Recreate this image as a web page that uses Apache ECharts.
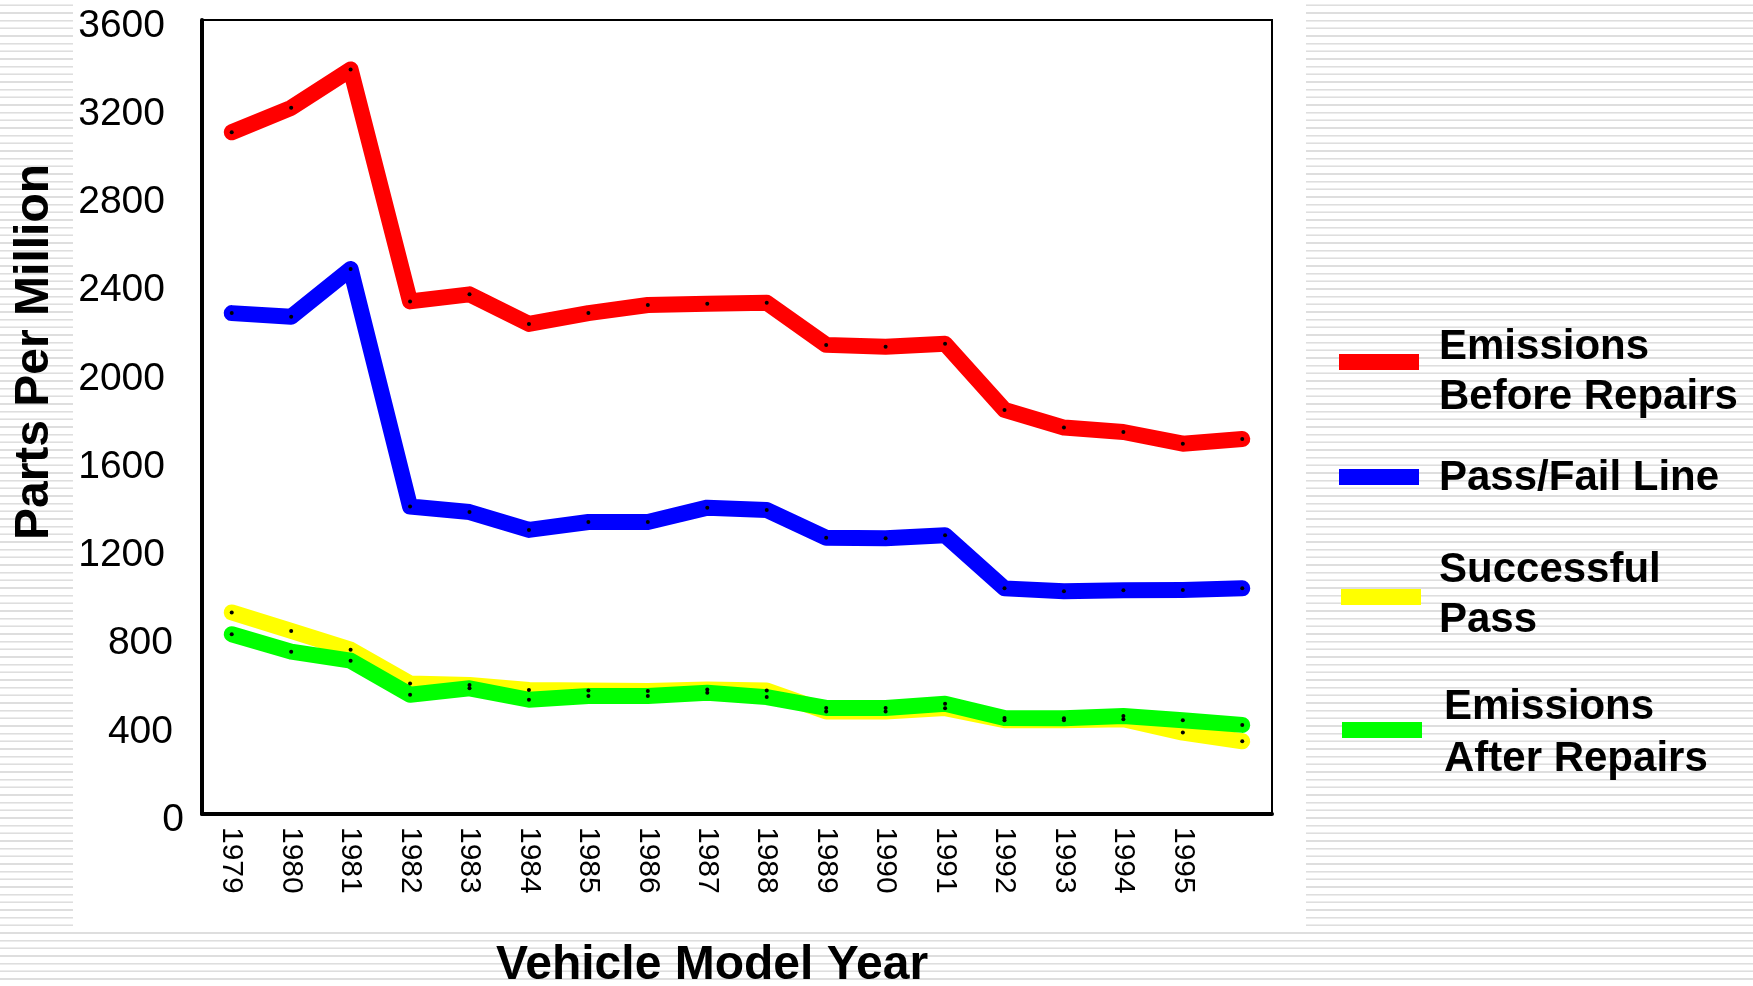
<!DOCTYPE html>
<html>
<head>
<meta charset="utf-8">
<script src="https://cdn.jsdelivr.net/npm/echarts@6/dist/echarts.min.js"></script>
<style>
html, body { margin: 0; padding: 0; }
body {
  width: 1753px; height: 986px; overflow: hidden; position: relative;
  background: repeating-linear-gradient(to bottom,
    #ffffff 0px, #ffffff 4.2px,
    #ececec 4.2px, #ececec 4.7px,
    #dedede 4.7px, #dedede 5.9px,
    #ececec 5.9px, #ececec 6.4px,
    #ffffff 6.4px, #ffffff 7.667px);
}
#panel { position: absolute; left: 73px; top: 0; width: 1233px; height: 928px; background: #ffffff; }
#chart { position: absolute; left: 0; top: 0; width: 1753px; height: 986px; }
</style>
</head>
<body>
<div id="panel"></div>
<div id="chart"></div>
<script>
// ---- data ----
const years = ['1979','1980','1981','1982','1983','1984','1985','1986','1987','1988','1989','1990','1991','1992','1993','1994','1995',''];
const beforeRepairs = [3091, 3202, 3376, 2324, 2356, 2222, 2271, 2308, 2314, 2318, 2127, 2118, 2132, 1832, 1752, 1732, 1679, 1700];
const passFailLine  = [2271, 2255, 2471, 1394, 1369, 1288, 1324, 1324, 1389, 1378, 1253, 1250, 1264, 1023, 1010, 1014, 1016, 1023];
const successfulPass = [914, 830, 745, 592, 585, 562, 560, 558, 565, 560, 465, 465, 480, 425, 425, 430, 369, 330];
const afterRepairs  = [815, 736, 695, 541, 570, 518, 535, 535, 550, 530, 481, 481, 500, 435, 434, 444, 425, 404];
const yTicks = { min: 0, max: 3600, interval: 400 };
const seriesNames = ['Emissions Before Repairs', 'Pass/Fail Line', 'Successful Pass', 'Emissions After Repairs'];
const seriesColors = ['#ff0000', '#0000ff', '#ffff00', '#00ff00'];
const legendLines = [['Emissions', 'Before Repairs'], ['Pass/Fail Line'], ['Successful', 'Pass'], ['Emissions', 'After Repairs']];

const FONT = '"Liberation Sans", Arial, Helvetica, sans-serif';
const chart = echarts.init(document.getElementById('chart'), null, { renderer: 'canvas' });

function lineSeries(name, data, color) {
  return {
    name: name, type: 'line', data: data,
    symbol: 'circle', symbolSize: 4, showSymbol: true,
    itemStyle: { color: '#000000' },
    lineStyle: { color: color, width: 16, cap: 'round', join: 'round' },
    emphasis: { disabled: true },
    animation: false
  };
}

// legend graphics
const legendSpec = [
  { rectX: 1339, rectY: 362, textX: 1439, lineY: [345, 395] },
  { rectX: 1339, rectY: 477, textX: 1439, lineY: [476] },
  { rectX: 1341, rectY: 597, textX: 1439, lineY: [568, 618] },
  { rectX: 1342, rectY: 730, textX: 1444, lineY: [705, 757] }
];
const graphics = [];
legendSpec.forEach((s, i) => {
  graphics.push({ type: 'rect', left: s.rectX, top: s.rectY - 8, shape: { width: 80, height: 16 }, style: { fill: seriesColors[i] }, silent: true });
  legendLines[i].forEach((t, j) => {
    graphics.push({ type: 'text', x: s.textX, y: s.lineY[j] + 2, style: { text: t, font: 'bold 42px ' + FONT, fill: '#000', textAlign: 'left', textVerticalAlign: 'middle' }, silent: true });
  });
});
graphics.push({ type: 'text', x: 35, y: 352, rotation: Math.PI / 2, style: { text: 'Parts Per Million', font: 'bold 48px ' + FONT, fill: '#000', textAlign: 'center', textVerticalAlign: 'middle' }, silent: true });
graphics.push({ type: 'text', x: 712, y: 966, style: { text: 'Vehicle Model Year', font: 'bold 48px ' + FONT, fill: '#000', textAlign: 'center', textVerticalAlign: 'middle' }, silent: true });

chart.setOption({
  animation: false,
  backgroundColor: 'transparent',
  grid: { left: 202, right: 1753 - 1272, top: 20, bottom: 986 - 814, show: true, borderColor: '#000', borderWidth: 2, backgroundColor: 'transparent' },
  xAxis: {
    type: 'category', data: years, boundaryGap: true,
    axisLine: { show: true, lineStyle: { color: '#000', width: 4 } },
    axisTick: { show: false },
    splitLine: { show: false },
    axisLabel: { rotate: -90, fontSize: 30, fontFamily: FONT, color: '#000', margin: 13, interval: 0 }
  },
  yAxis: {
    type: 'value', min: yTicks.min, max: yTicks.max, interval: yTicks.interval,
    axisLine: { show: true, lineStyle: { color: '#000', width: 4 } },
    axisTick: { show: false },
    splitLine: { show: false },
    axisLabel: {
      fontSize: 39, fontFamily: FONT, color: '#000', margin: 18,
      formatter: function (v) { const s = String(v); return '{p' + s.length + '|' + s + '}'; },
      rich: {
        p1: { fontSize: 39, fontFamily: FONT, color: '#000', padding: [12, 0, 0, 0] },
        p3: { fontSize: 39, fontFamily: FONT, color: '#000', padding: [12, 11, 0, 0] },
        p4: { fontSize: 39, fontFamily: FONT, color: '#000', padding: [12, 19, 0, 0] }
      }
    }
  },
  series: [
    lineSeries(seriesNames[0], beforeRepairs, seriesColors[0]),
    lineSeries(seriesNames[1], passFailLine, seriesColors[1]),
    lineSeries(seriesNames[2], successfulPass, seriesColors[2]),
    lineSeries(seriesNames[3], afterRepairs, seriesColors[3])
  ],
  graphic: graphics
});
</script>
</body>
</html>
